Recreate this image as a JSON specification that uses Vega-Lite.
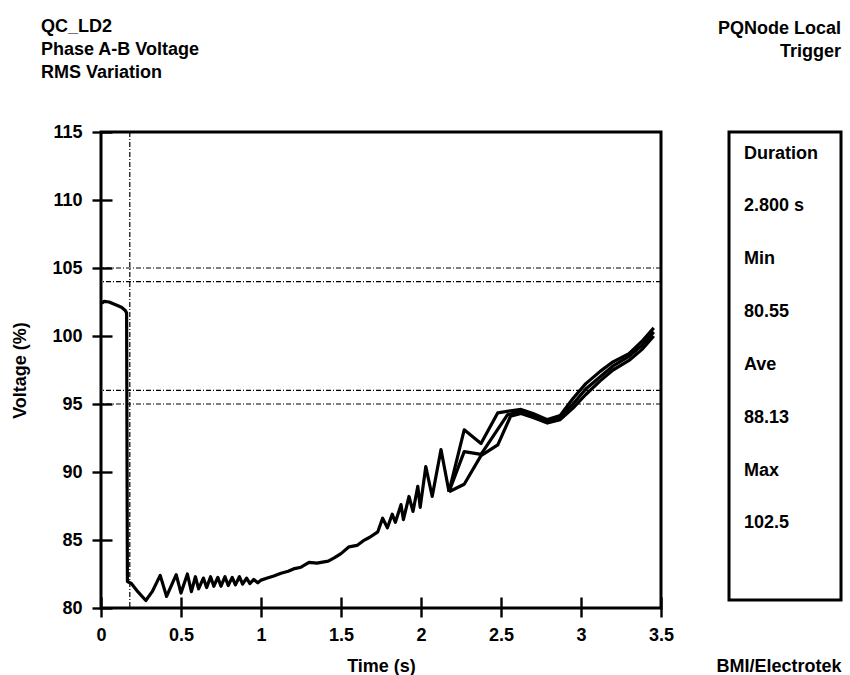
{
  "$schema": "https://vega.github.io/schema/vega-lite/v6.json",
  "background": "white",
  "padding": {"left": 10, "top": 16, "right": 8, "bottom": 8},
  "bounds": "flush",
  "spacing": 68,
  "config": {
    "font": "Liberation Sans",
    "view": {"stroke": "black", "strokeWidth": 3},
    "axis": {
      "labelFont": "Liberation Sans",
      "labelFontWeight": "bold",
      "labelFontSize": 18,
      "labelColor": "black",
      "titleFont": "Liberation Sans",
      "titleFontWeight": "bold",
      "titleFontSize": 18,
      "titleColor": "black",
      "tickColor": "black",
      "tickWidth": 2.4,
      "grid": false,
      "domain": false
    },
    "title": {"font": "Liberation Sans", "fontSize": 18, "fontWeight": "bold", "color": "black", "lineHeight": 23}
  },
  "datasets": {
    "trace": [
      {"series": "main", "time": 0.005, "voltage": 102.4},
      {"series": "main", "time": 0.02, "voltage": 102.55},
      {"series": "main", "time": 0.05, "voltage": 102.5},
      {"series": "main", "time": 0.08, "voltage": 102.35},
      {"series": "main", "time": 0.11, "voltage": 102.2},
      {"series": "main", "time": 0.13, "voltage": 102.1},
      {"series": "main", "time": 0.15, "voltage": 101.9},
      {"series": "main", "time": 0.16, "voltage": 101.7},
      {"series": "main", "time": 0.165, "voltage": 81.95},
      {"series": "main", "time": 0.19, "voltage": 81.8},
      {"series": "main", "time": 0.23, "voltage": 81.2},
      {"series": "main", "time": 0.28, "voltage": 80.55},
      {"series": "main", "time": 0.32, "voltage": 81.2},
      {"series": "main", "time": 0.37, "voltage": 82.4},
      {"series": "main", "time": 0.41, "voltage": 80.85},
      {"series": "main", "time": 0.47, "voltage": 82.45},
      {"series": "main", "time": 0.5, "voltage": 81.1},
      {"series": "main", "time": 0.54, "voltage": 82.5},
      {"series": "main", "time": 0.565, "voltage": 81.2},
      {"series": "main", "time": 0.59, "voltage": 82.3},
      {"series": "main", "time": 0.61, "voltage": 81.4},
      {"series": "main", "time": 0.64, "voltage": 82.2},
      {"series": "main", "time": 0.66, "voltage": 81.5},
      {"series": "main", "time": 0.685, "voltage": 82.3},
      {"series": "main", "time": 0.705, "voltage": 81.6},
      {"series": "main", "time": 0.73, "voltage": 82.25},
      {"series": "main", "time": 0.75, "voltage": 81.6},
      {"series": "main", "time": 0.775, "voltage": 82.3},
      {"series": "main", "time": 0.795, "voltage": 81.65},
      {"series": "main", "time": 0.82, "voltage": 82.25},
      {"series": "main", "time": 0.84, "voltage": 81.7},
      {"series": "main", "time": 0.865, "voltage": 82.3},
      {"series": "main", "time": 0.885, "voltage": 81.75},
      {"series": "main", "time": 0.91, "voltage": 82.2},
      {"series": "main", "time": 0.93, "voltage": 81.8},
      {"series": "main", "time": 0.955, "voltage": 82.1},
      {"series": "main", "time": 0.98, "voltage": 81.85},
      {"series": "main", "time": 1.0, "voltage": 82.05},
      {"series": "main", "time": 1.04, "voltage": 82.2},
      {"series": "main", "time": 1.08, "voltage": 82.35},
      {"series": "main", "time": 1.125, "voltage": 82.55},
      {"series": "main", "time": 1.17, "voltage": 82.7},
      {"series": "main", "time": 1.21, "voltage": 82.9},
      {"series": "main", "time": 1.25, "voltage": 83.0},
      {"series": "main", "time": 1.3, "voltage": 83.35},
      {"series": "main", "time": 1.35, "voltage": 83.3},
      {"series": "main", "time": 1.42, "voltage": 83.45},
      {"series": "main", "time": 1.46, "voltage": 83.7},
      {"series": "main", "time": 1.5, "voltage": 84.0},
      {"series": "main", "time": 1.55, "voltage": 84.5},
      {"series": "main", "time": 1.6, "voltage": 84.6},
      {"series": "main", "time": 1.64, "voltage": 84.95},
      {"series": "main", "time": 1.68, "voltage": 85.2},
      {"series": "main", "time": 1.73, "voltage": 85.6},
      {"series": "main", "time": 1.76, "voltage": 86.6},
      {"series": "main", "time": 1.79, "voltage": 85.9},
      {"series": "main", "time": 1.82, "voltage": 86.9},
      {"series": "main", "time": 1.84, "voltage": 86.3},
      {"series": "main", "time": 1.875, "voltage": 87.6},
      {"series": "main", "time": 1.89, "voltage": 86.5},
      {"series": "main", "time": 1.925, "voltage": 88.2},
      {"series": "main", "time": 1.95, "voltage": 87.1},
      {"series": "main", "time": 1.98, "voltage": 88.95},
      {"series": "main", "time": 1.995, "voltage": 87.4},
      {"series": "main", "time": 2.03, "voltage": 90.4},
      {"series": "main", "time": 2.07, "voltage": 88.2},
      {"series": "main", "time": 2.125, "voltage": 91.65},
      {"series": "main", "time": 2.175, "voltage": 88.55},

      {"series": "upper", "time": 2.175, "voltage": 88.55},
      {"series": "upper", "time": 2.27, "voltage": 93.1},
      {"series": "upper", "time": 2.375, "voltage": 92.1},
      {"series": "upper", "time": 2.48, "voltage": 94.35},
      {"series": "upper", "time": 2.56, "voltage": 94.5},
      {"series": "upper", "time": 2.625, "voltage": 94.6},
      {"series": "upper", "time": 2.7, "voltage": 94.3},
      {"series": "upper", "time": 2.79, "voltage": 93.85},
      {"series": "upper", "time": 2.87, "voltage": 94.15},
      {"series": "upper", "time": 2.95, "voltage": 95.4},
      {"series": "upper", "time": 3.03, "voltage": 96.5},
      {"series": "upper", "time": 3.12, "voltage": 97.4},
      {"series": "upper", "time": 3.2, "voltage": 98.1},
      {"series": "upper", "time": 3.3, "voltage": 98.7},
      {"series": "upper", "time": 3.38, "voltage": 99.6},
      {"series": "upper", "time": 3.455, "voltage": 100.6},

      {"series": "middle", "time": 2.175, "voltage": 88.55},
      {"series": "middle", "time": 2.27, "voltage": 91.5},
      {"series": "middle", "time": 2.375, "voltage": 91.3},
      {"series": "middle", "time": 2.54, "voltage": 94.2},
      {"series": "middle", "time": 2.625, "voltage": 94.45},
      {"series": "middle", "time": 2.7, "voltage": 94.1},
      {"series": "middle", "time": 2.79, "voltage": 93.75},
      {"series": "middle", "time": 2.87, "voltage": 94.0},
      {"series": "middle", "time": 2.95, "voltage": 95.0},
      {"series": "middle", "time": 3.03, "voltage": 96.1},
      {"series": "middle", "time": 3.12, "voltage": 97.0},
      {"series": "middle", "time": 3.2, "voltage": 97.8},
      {"series": "middle", "time": 3.3, "voltage": 98.5},
      {"series": "middle", "time": 3.38, "voltage": 99.3},
      {"series": "middle", "time": 3.455, "voltage": 100.3},

      {"series": "lower", "time": 2.175, "voltage": 88.55},
      {"series": "lower", "time": 2.27, "voltage": 89.1},
      {"series": "lower", "time": 2.375, "voltage": 91.2},
      {"series": "lower", "time": 2.48, "voltage": 92.0},
      {"series": "lower", "time": 2.56, "voltage": 94.1},
      {"series": "lower", "time": 2.625, "voltage": 94.3},
      {"series": "lower", "time": 2.7, "voltage": 94.0},
      {"series": "lower", "time": 2.79, "voltage": 93.6},
      {"series": "lower", "time": 2.87, "voltage": 93.85},
      {"series": "lower", "time": 2.95, "voltage": 94.7},
      {"series": "lower", "time": 3.03, "voltage": 95.7},
      {"series": "lower", "time": 3.12, "voltage": 96.7},
      {"series": "lower", "time": 3.2, "voltage": 97.5},
      {"series": "lower", "time": 3.3, "voltage": 98.2},
      {"series": "lower", "time": 3.38, "voltage": 99.0},
      {"series": "lower", "time": 3.455, "voltage": 100.0}
    ],
    "limits": [
      {"voltage": 105},
      {"voltage": 104},
      {"voltage": 96},
      {"voltage": 95}
    ],
    "marker": [
      {"time": 0.18}
    ],
    "stats": [
      {"row": 0, "label": "Duration"},
      {"row": 1, "label": "2.800 s"},
      {"row": 2, "label": "Min"},
      {"row": 3, "label": "80.55"},
      {"row": 4, "label": "Ave"},
      {"row": 5, "label": "88.13"},
      {"row": 6, "label": "Max"},
      {"row": 7, "label": "102.5"}
    ]
  },
  "hconcat": [
    {
      "width": 560,
      "height": 476,
      "title": {
        "text": ["QC_LD2", "Phase A-B Voltage", "RMS Variation"],
        "anchor": "start",
        "frame": "group",
        "dx": -60,
        "offset": 41
      },
      "layer": [
        {
          "data": {"name": "limits"},
          "mark": {"type": "rule", "color": "black", "strokeWidth": 1.2, "strokeDash": [5, 2, 1, 2]},
          "encoding": {
            "y": {
              "field": "voltage",
              "type": "quantitative",
              "scale": {"domain": [80, 115], "nice": false, "zero": false},
              "axis": {
                "title": "Voltage (%)",
                "values": [80, 85, 90, 95, 100, 105, 110, 115],
                "tickSize": 20,
                "offset": -11,
                "labelPadding": 10,
                "titlePadding": 22,
                "labelFlush": false,
                "labelOverlap": false
              }
            }
          }
        },
        {
          "data": {"name": "marker"},
          "mark": {"type": "rule", "color": "black", "strokeWidth": 1.2, "strokeDash": [5, 2, 1, 2]},
          "encoding": {
            "x": {
              "field": "time",
              "type": "quantitative",
              "scale": {"domain": [0, 3.5], "nice": false, "zero": false},
              "axis": {
                "title": "Time (s)",
                "values": [0, 0.5, 1, 1.5, 2, 2.5, 3, 3.5],
                "format": "~g",
                "tickSize": 20,
                "offset": -11,
                "labelPadding": 9,
                "titlePadding": 13,
                "labelFlush": false,
                "labelOverlap": false
              }
            }
          }
        },
        {
          "data": {"name": "trace"},
          "mark": {"type": "line", "color": "black", "strokeWidth": 3.2, "strokeJoin": "round"},
          "encoding": {
            "x": {"field": "time", "type": "quantitative"},
            "y": {"field": "voltage", "type": "quantitative"},
            "detail": {"field": "series"},
            "order": {"field": "time", "type": "quantitative"}
          }
        }
      ]
    },
    {
      "width": 112,
      "height": 468,
      "title": {
        "text": ["PQNode Local", "Trigger"],
        "anchor": "end",
        "frame": "group",
        "align": "right",
        "offset": 71
      },
      "data": {"name": "stats"},
      "mark": {"type": "text", "align": "left", "baseline": "middle", "fontSize": 18, "fontWeight": "bold", "font": "Liberation Sans", "color": "black"},
      "encoding": {
        "x": {
          "datum": 0.134,
          "type": "quantitative",
          "scale": {"domain": [0, 1]},
          "axis": {"title": "BMI/Electrotek", "labels": false, "ticks": false, "titleAnchor": "end", "titlePadding": 57}
        },
        "y": {
          "field": "row",
          "type": "quantitative",
          "scale": {"domain": [-0.407, 8.448], "reverse": true, "nice": false, "zero": false},
          "axis": null
        },
        "text": {"field": "label"}
      }
    }
  ]
}
